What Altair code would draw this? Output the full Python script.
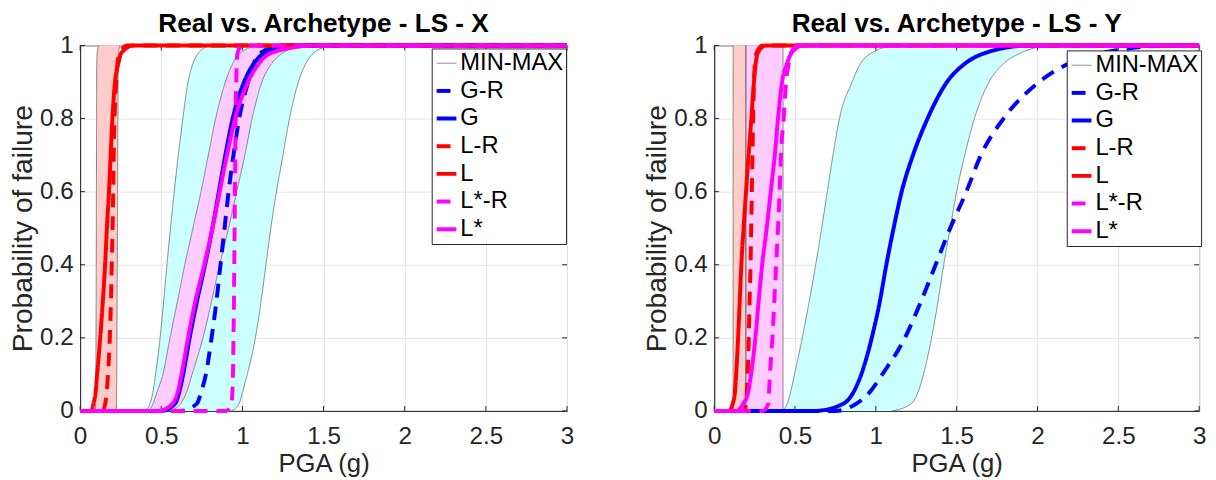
import altair as alt
import pandas as pd

FONT = "Liberation Sans"

P_LEVELS = [0, 0.02, 0.05, 0.1, 0.2, 0.3, 0.4, 0.5, 0.6, 0.7, 0.8, 0.9, 0.95, 0.98, 1.0]
P_FLAT = [0.0, 1.0]
PGA_RANGE = [0.0, 3.0]

SERIES = ["MIN-MAX", "G-R", "G", "L-R", "L", "L*-R", "L*"]
COLORS = ["#666666", "#0000FF", "#0000FF", "#FF0000", "#FF0000", "#FF00FF", "#FF00FF"]
DASHES = [[1, 0], [14, 9], [1, 0], [14, 9], [1, 0], [14, 9], [1, 0]]
X_TICKS = [0, 0.5, 1, 1.5, 2, 2.5, 3]
Y_TICKS = [0, 0.2, 0.4, 0.6, 0.8, 1]

# ---------------- LS - X ----------------
X_CYAN_MIN = [0.40, 0.43, 0.448, 0.465, 0.493, 0.515, 0.535, 0.557, 0.58, 0.605, 0.633, 0.665, 0.695, 0.73, 0.80]
X_CYAN_MAX = [0.93, 0.98, 1.0, 1.03, 1.08, 1.115, 1.145, 1.175, 1.21, 1.25, 1.29, 1.345, 1.39, 1.44, 1.55]
X_PINK_MIN = [0.42, 0.45, 0.473, 0.51, 0.554, 0.60, 0.645, 0.695, 0.745, 0.79, 0.835, 0.895, 0.94, 0.99, 1.10]
X_PINK_MAX = [0.55, 0.62, 0.655, 0.69, 0.757, 0.81, 0.86, 0.915, 0.965, 1.015, 1.06, 1.12, 1.18, 1.25, 1.38]
X_SALMON_MIN = [0.094, 0.095, 0.096, 0.097, 0.098, 0.099, 0.0995, 0.100, 0.1005, 0.101, 0.1015, 0.102, 0.103, 0.105, 0.115]
X_SALMON_MAX = [0.222, 0.224, 0.225, 0.226, 0.227, 0.228, 0.229, 0.230, 0.231, 0.232, 0.233, 0.234, 0.235, 0.237, 0.245]

X_GR = [0.62, 0.72, 0.745, 0.775, 0.81, 0.84, 0.865, 0.89, 0.915, 0.945, 0.98, 1.035, 1.07, 1.11, 1.25]
X_G = [0.50, 0.585, 0.61, 0.635, 0.675, 0.72, 0.77, 0.815, 0.855, 0.895, 0.94, 1.01, 1.07, 1.14, 1.35]
X_LR = [0.14, 0.155, 0.164, 0.172, 0.183, 0.19, 0.195, 0.2, 0.204, 0.207, 0.212, 0.222, 0.23, 0.245, 0.29]
X_L = [0.07, 0.082, 0.095, 0.105, 0.124, 0.14, 0.154, 0.165, 0.178, 0.188, 0.199, 0.215, 0.235, 0.255, 0.33]
X_LSR = [0.90, 0.935, 0.938, 0.942, 0.945, 0.948, 0.950, 0.952, 0.954, 0.956, 0.958, 0.962, 0.965, 0.97, 1.0]
X_LS = [0.48, 0.57, 0.60, 0.625, 0.665, 0.71, 0.765, 0.815, 0.86, 0.905, 0.955, 1.035, 1.10, 1.18, 1.45]

# ---------------- LS - Y ----------------
Y_CYAN_MIN = [0.42, 0.452, 0.472, 0.497, 0.545, 0.588, 0.628, 0.665, 0.70, 0.735, 0.775, 0.853, 0.905, 0.975, 1.12]
Y_CYAN_MAX = [1.10, 1.22, 1.26, 1.295, 1.345, 1.385, 1.42, 1.46, 1.50, 1.55, 1.61, 1.70, 1.79, 1.90, 2.05]
Y_PINK_MIN = [0.196, 0.196]
Y_PINK_MAX = [0.426, 0.426]
Y_SALMON_MIN = [0.117, 0.117]
Y_SALMON_MAX = [0.196, 0.196]

Y_GR = [0.75, 0.88, 0.96, 1.04, 1.18, 1.28, 1.37, 1.46, 1.56, 1.65, 1.79, 2.01, 2.19, 2.40, 2.85]
Y_G = [0.62, 0.80, 0.86, 0.91, 0.975, 1.025, 1.065, 1.11, 1.16, 1.23, 1.32, 1.44, 1.55, 1.68, 1.95]
Y_LR = [0.19, 0.196, 0.202, 0.207, 0.214, 0.219, 0.225, 0.229, 0.233, 0.237, 0.241, 0.246, 0.252, 0.262, 0.30]
Y_L = [0.09, 0.115, 0.128, 0.136, 0.148, 0.158, 0.168, 0.182, 0.197, 0.213, 0.23, 0.246, 0.257, 0.27, 0.32]
Y_LSR = [0.30, 0.335, 0.339, 0.345, 0.36, 0.372, 0.383, 0.395, 0.405, 0.413, 0.43, 0.445, 0.461, 0.475, 0.52]
Y_LS = [0.14, 0.18, 0.21, 0.228, 0.255, 0.275, 0.297, 0.325, 0.35, 0.375, 0.395, 0.42, 0.45, 0.48, 0.55]

CYAN_FILL = "#CCFFFF"
PINK_FILL = "#FFCCFF"
SALMON_FILL = "#FFCCCC"
AXIS_COLOR = "#262626"
TICK_LEN = 5

xscale = alt.Scale(domain=PGA_RANGE, nice=False, zero=False)
yscale = alt.Scale(domain=[0, 1], nice=False, zero=False)
xaxis = alt.Axis(values=X_TICKS, format="~g", title="PGA (g)", ticks=False,
                 labelPadding=14, titlePadding=3, labelFlush=False, titleFontSize=26)
yaxis = alt.Axis(values=Y_TICKS, format="~g", title="Probability of failure",
                 ticks=False, labelPadding=7, titlePadding=2, titleFontSize=28.5)


def series_enc(legend):
    return dict(
        color=alt.Color("series:N", scale=alt.Scale(domain=SERIES, range=COLORS), legend=legend),
        strokeDash=alt.StrokeDash("series:N", scale=alt.Scale(domain=SERIES, range=DASHES), legend=legend),
    )


def panel(title, bands, curves, lx, ly, w, h):
    legend = alt.Legend(
        title=None, orient="none", legendX=lx, legendY=ly, offset=0,
        fillColor="white", strokeColor=AXIS_COLOR, padding=3,
        symbolType="stroke", symbolSize=400,
        symbolStrokeWidth=alt.ExprRef(expr="datum.value === 'MIN-MAX' ? 0.8 : 4"),
        labelFont=FONT, labelFontSize=24, labelColor="black",
        rowPadding=4, labelOffset=2,
    )
    layers = []
    edge_rows = []
    for bi, (plist, lo, hi, fill) in enumerate(bands):
        df = pd.DataFrame({"p": plist, "lo": lo, "hi": hi})
        layers.append(
            alt.Chart(df).mark_area(orient="horizontal", interpolate="monotone", fill=fill, opacity=1).encode(
                y=alt.Y("p:Q", scale=yscale, axis=yaxis),
                x=alt.X("lo:Q", scale=xscale, axis=xaxis),
                x2="hi:Q",
            )
        )
        for side, xs in (("lo", lo), ("hi", hi)):
            for k, (p, x) in enumerate(zip(plist, xs)):
                edge_rows.append({"edge": f"{bi}{side}", "pga": x, "p": p, "k": k, "series": "MIN-MAX"})

    # inward tick marks on all four sides (MATLAB box style)
    xt = pd.DataFrame({"t": X_TICKS})
    yt = pd.DataFrame({"t": Y_TICKS})
    for y0, y1 in ((h, h - TICK_LEN), (0, TICK_LEN)):
        layers.append(
            alt.Chart(xt).mark_rule(color=AXIS_COLOR, strokeWidth=1).encode(
                x=alt.X("t:Q", scale=xscale, axis=xaxis), y=alt.value(y0), y2=alt.value(y1)
            )
        )
    for x0, x1 in ((0, TICK_LEN), (w, w - TICK_LEN)):
        layers.append(
            alt.Chart(yt).mark_rule(color=AXIS_COLOR, strokeWidth=1).encode(
                y=alt.Y("t:Q", scale=yscale, axis=yaxis), x=alt.value(x0), x2=alt.value(x1)
            )
        )

    edges = pd.DataFrame(edge_rows)
    layers.append(
        alt.Chart(edges).mark_line(interpolate="monotone").encode(
            x=alt.X("pga:Q", scale=xscale, axis=xaxis),
            y=alt.Y("p:Q", scale=yscale, axis=yaxis),
            detail="edge:N", order="k:Q",
            strokeWidth=alt.value(0.8),
            **series_enc(legend),
        )
    )
    for name, pga in curves:
        xs = [PGA_RANGE[0]] + list(pga) + [PGA_RANGE[1]]
        ps = [0.0] + list(P_LEVELS) + [1.0]
        df = pd.DataFrame({"pga": xs, "p": ps, "k": list(range(len(xs))), "series": name})
        layers.append(
            alt.Chart(df).mark_line(interpolate="monotone").encode(
                x=alt.X("pga:Q", scale=xscale, axis=xaxis),
                y=alt.Y("p:Q", scale=yscale, axis=yaxis),
                order="k:Q",
                strokeWidth=alt.value(4),
                **series_enc(legend),
            )
        )
    return alt.layer(*layers).properties(
        width=w, height=h,
        title=alt.TitleParams(title, font=FONT, fontSize=26.5, fontWeight="bold", color="black",
                              offset=-5, frame="group"),
    )


left = panel(
    "Real vs. Archetype - LS - X",
    [(P_LEVELS, X_CYAN_MIN, X_CYAN_MAX, CYAN_FILL),
     (P_LEVELS, X_PINK_MIN, X_PINK_MAX, PINK_FILL),
     (P_LEVELS, X_SALMON_MIN, X_SALMON_MAX, SALMON_FILL)],
    [("G-R", X_GR), ("G", X_G), ("L-R", X_LR), ("L", X_L), ("L*-R", X_LSR), ("L*", X_LS)],
    356, 3, 493, 370,
)
right = panel(
    "Real vs. Archetype - LS - Y",
    [(P_LEVELS, Y_CYAN_MIN, Y_CYAN_MAX, CYAN_FILL),
     (P_FLAT, Y_SALMON_MIN, Y_SALMON_MAX, SALMON_FILL),
     (P_FLAT, Y_PINK_MIN, Y_PINK_MAX, PINK_FILL)],
    [("G-R", Y_GR), ("G", Y_G), ("L-R", Y_LR), ("L", Y_L), ("L*-R", Y_LSR), ("L*", Y_LS)],
    357, 5, 491, 370,
)

chart = alt.hconcat(left, right, spacing=67).resolve_scale(
    color="independent", strokeDash="independent"
).resolve_legend(
    color="independent", strokeDash="independent"
).configure(
    padding={"left": 0, "top": 0, "right": 0, "bottom": 0},
    background="white",
).configure_axis(
    labelFont=FONT, titleFont=FONT, labelFontSize=24.5,
    titleFontWeight="normal", labelColor=AXIS_COLOR, titleColor=AXIS_COLOR,
    domainColor=AXIS_COLOR, domainWidth=1, gridColor="#E3E3E3", gridWidth=1,
).configure_view(
    stroke=AXIS_COLOR, strokeWidth=1,
)

chart.save("out.html", embed_options={"renderer": "svg", "actions": False})
